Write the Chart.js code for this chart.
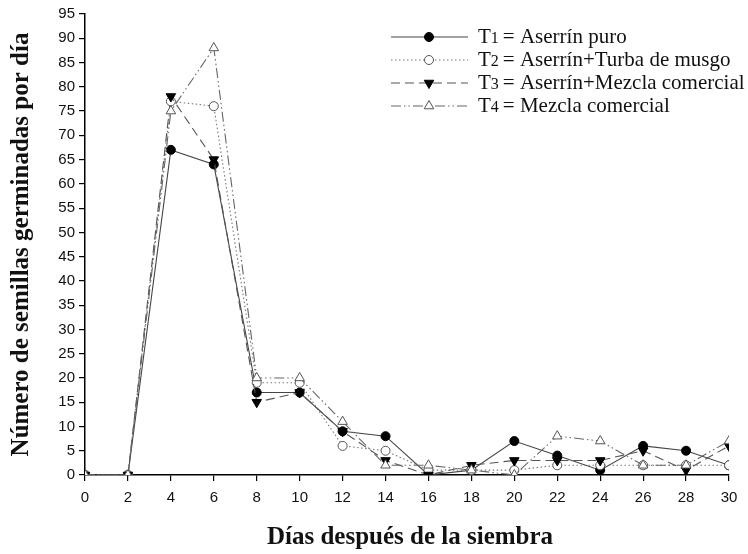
<!DOCTYPE html>
<html>
<head>
<meta charset="utf-8">
<script src="https://cdn.jsdelivr.net/npm/chart.js@4/dist/chart.umd.min.js"></script>
<style>
  html, body { margin: 0; padding: 0; background: #fff; }
  #wrap { width: 748px; height: 554px; }
</style>
</head>
<body>
<div id="wrap"><canvas id="c" width="748" height="554"></canvas></div>
<script>
// Days after sowing (x) and germinated seeds per day for each treatment
const days = [0, 2, 4, 6, 8, 10, 12, 14, 16, 18, 20, 22, 24, 26, 28, 30];
const t1Values = [0, 0, 67, 64, 17, 17, 9, 8, 0, 1, 7, 4, 1, 6, 5, 2];
const t2Values = [0, 0, 77, 76, 19, 19, 6, 5, 1, 1, 1, 2, 2, 2, 2, 2];
const t3Values = [0, 0, 78, 65, 15, 17, 9, 3, 0, 2, 3, 3, 3, 5, 1, 6];
const t4Values = [0, 0, 75, 88, 20, 20, 11, 2, 2, 1, 0, 8, 7, 2, 2, 7];

const seriesNames = ['1', '2', '3', '4'];
const seriesLabels = ['Aserrín puro', 'Aserrín+Turba de musgo', 'Aserrín+Mezcla comercial', 'Mezcla comercial'];
const xTicks = days;
const yTickStep = 5;
const yMax = 95;
const xTitle = 'Días después de la siembra';
const yTitle = 'Número de semillas germinadas por día';

const toPoints = vals => days.map((d, i) => ({ x: d, y: vals[i] }));

const styles = [
  { line: '#444', dash: [], point: 'circle', fill: '#000', stroke: '#000', r: 4.5, rot: 0 },
  { line: '#777', dash: [1.5, 2.5], point: 'circle', fill: '#fff', stroke: '#555', r: 4.5, rot: 0 },
  { line: '#555', dash: [9, 5], point: 'triangle', fill: '#000', stroke: '#000', r: 5.5, rot: 180 },
  { line: '#666', dash: [10, 3, 1.5, 3, 1.5, 3], point: 'triangle', fill: '#fff', stroke: '#555', r: 5.5, rot: 0 }
];

const allValues = [t1Values, t2Values, t3Values, t4Values];

const datasets = allValues.map((vals, i) => ({
  label: 'T' + seriesNames[i] + ' = ' + seriesLabels[i],
  data: toPoints(vals),
  borderColor: styles[i].line,
  borderWidth: 1.1,
  borderDash: styles[i].dash,
  pointStyle: styles[i].point,
  pointRotation: styles[i].rot,
  pointRadius: styles[i].r,
  pointBackgroundColor: styles[i].fill,
  pointBorderColor: styles[i].stroke,
  pointBorderWidth: 1,
  tension: 0,
  fill: false,
  order: 4 - i
}));

// Axis titles and the legend box drawn on the canvas
const decorations = {
  id: 'decorations',
  afterDraw(chart) {
    const ctx = chart.ctx;
    const area = chart.chartArea;
    ctx.save();
    ctx.fillStyle = '#111';
    ctx.textAlign = 'center';
    ctx.textBaseline = 'middle';
    ctx.font = 'bold 25px "Liberation Serif"';
    ctx.fillText(xTitle, (area.left + area.right) / 2 + 3, 538);
    ctx.save();
    ctx.translate(22, (area.top + area.bottom) / 2);
    ctx.rotate(-Math.PI / 2);
    ctx.fillText(yTitle, 0, 0);
    ctx.restore();

    // legend rows
    const rowY = [37, 60, 83, 106];
    const lineX0 = 391, lineX1 = 468, markX = 429, textX = 478;
    styles.forEach((s, i) => {
      const y = rowY[i];
      ctx.save();
      ctx.strokeStyle = s.line;
      ctx.lineWidth = 1.1;
      ctx.setLineDash(s.dash);
      ctx.beginPath();
      ctx.moveTo(lineX0, y);
      ctx.lineTo(lineX1, y);
      ctx.stroke();
      ctx.restore();
      ctx.save();
      ctx.fillStyle = s.fill;
      ctx.strokeStyle = s.stroke;
      ctx.lineWidth = 1;
      Chart.helpers.drawPoint(ctx, { pointStyle: s.point, rotation: s.rot, radius: s.r, borderWidth: 1 }, markX, y);
      ctx.restore();

      ctx.textAlign = 'left';
      ctx.textBaseline = 'alphabetic';
      const base = y + 6;
      ctx.font = '21px "Liberation Serif"';
      ctx.fillText('T', textX, base);
      let x = textX + ctx.measureText('T').width;
      ctx.font = '16px "Liberation Serif"';
      ctx.fillText(seriesNames[i], x, base);
      x += ctx.measureText(seriesNames[i]).width + 4;
      ctx.font = '21px "Liberation Serif"';
      ctx.fillText('= ' + seriesLabels[i], x, base);
    });
    ctx.restore();
  }
};

new Chart(document.getElementById('c'), {
  type: 'line',
  data: { datasets },
  options: {
    responsive: false,
    devicePixelRatio: 1,
    animation: false,
    layout: { padding: { top: 14, right: 19, left: 0, bottom: 0 } },
    plugins: { legend: { display: false }, tooltip: { enabled: false } },
    scales: {
      x: {
        type: 'linear',
        min: 0,
        max: 30,
        afterFit(scale) { scale.height = 79; },
        afterBuildTicks(scale) { scale.ticks = xTicks.map(v => ({ value: v })); },
        ticks: { color: '#111', font: { family: '"Liberation Sans"', size: 15 }, padding: 8, maxRotation: 0 },
        grid: { drawOnChartArea: false, drawTicks: true, tickLength: 6, color: '#000', lineWidth: 1.2 },
        border: { display: true, color: '#000', width: 1.5 }
      },
      y: {
        type: 'linear',
        min: 0,
        max: yMax,
        afterFit(scale) { scale.width = 85; },
        ticks: { stepSize: yTickStep, color: '#111', font: { family: '"Liberation Sans"', size: 15 }, padding: 4 },
        grid: { drawOnChartArea: false, drawTicks: true, tickLength: 6, color: '#000', lineWidth: 1.2 },
        border: { display: true, color: '#000', width: 1.5 }
      }
    }
  },
  plugins: [decorations]
});
</script>
</body>
</html>
